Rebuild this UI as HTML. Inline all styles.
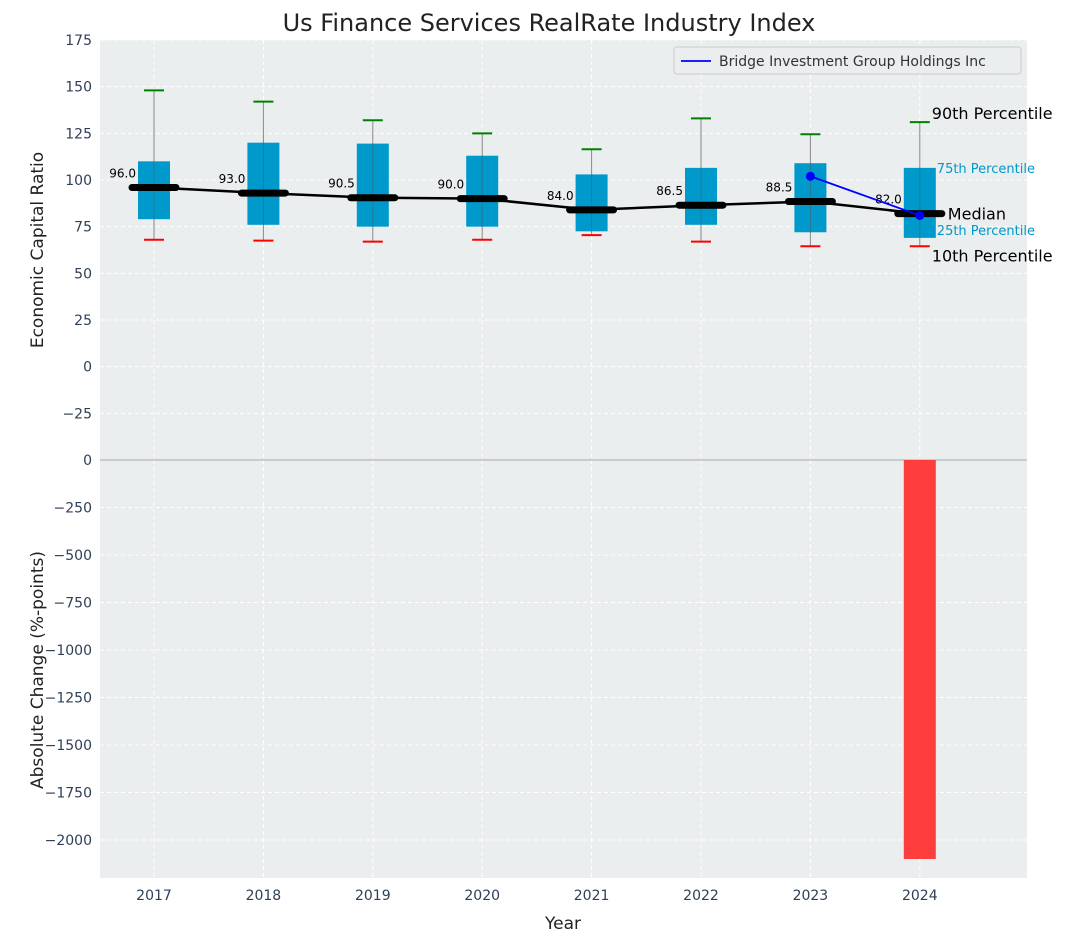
<!DOCTYPE html>
<html><head><meta charset="utf-8"><style>
body{margin:0;background:#fff;font-family:"DejaVu Sans","Liberation Sans",sans-serif;}
svg text{font-family:"DejaVu Sans","Liberation Sans",sans-serif;}
</style></head><body>
<svg id="c" width="1067" height="942" xmlns="http://www.w3.org/2000/svg"></svg>
<script>
const years=[2017,2018,2019,2020,2021,2022,2023,2024];
const p10=[68,67.5,67,68,70.5,67,64.5,64.5];
const q1=[79,76,75,75,72.5,76,72,69];
const med=[96,93,90.5,90,84,86.5,88.5,82];
const q3=[110,120,119.5,113,103,106.5,109,106.5];
const p90=[148,142,132,125,116.5,133,124.5,131];
const compYears=[2023,2024];
const compVals=[102,81];
const changeYears=[2024];
const changeVals=[-2100];
const topTicks=[-25,0,25,50,75,100,125,150,175];
const botTicks=[-2000,-1750,-1500,-1250,-1000,-750,-500,-250,0];

const NS="http://www.w3.org/2000/svg";
const svg=document.getElementById('c');
function mk(t,a,p){const e=document.createElementNS(NS,t);for(const k in a)e.setAttribute(k,a[k]);(p||svg).appendChild(e);return e;}
const L=100,R=1027,T=40,M=460,B=878;
const x=v=>154+(v-2017)*109.4;
const yT=v=>M-(v+50)/225*(M-T);
const yB=v=>M+(v/-2200)*(B-M);

let bg=mk('rect',{x:L,y:T,width:R-L,height:B-T,fill:'#eaeeee'});

years.forEach(yr=>{let g=mk('line',{x1:x(yr),x2:x(yr),y1:T,y2:B,stroke:'#fff','stroke-dasharray':'4,3','stroke-width':1});
});
topTicks.forEach(t=>{const yy=yT(t);let g=mk('line',{x1:L,x2:R,y1:yy,y2:yy,stroke:'#fff','stroke-dasharray':'4,3'});

let tx=mk('text',{x:L-8,y:yy+5,'text-anchor':'end','font-size':14,fill:'#2e4057'});tx.textContent=t<0?'−'+(-t):t;
});
botTicks.forEach(t=>{const yy=yB(t);let g=mk('line',{x1:L,x2:R,y1:yy,y2:yy,stroke:'#fff','stroke-dasharray':'4,3'});

let tx=mk('text',{x:L-8,y:yy+5,'text-anchor':'end','font-size':14,fill:'#2e4057'});tx.textContent=t<0?'−'+(-t):t;
});
let sep=mk('line',{x1:L,x2:R,y1:M,y2:M,stroke:'#aaa','stroke-width':1});


years.forEach((yr,i)=>{const cx=x(yr);
let w=mk('line',{x1:cx,x2:cx,y1:yT(p90[i]),y2:yT(p10[i]),stroke:'#888','stroke-width':1});

let b=mk('rect',{x:cx-16,y:yT(q3[i]),width:32,height:yT(q1[i])-yT(q3[i]),fill:'#0099cc'});

let w2=mk('line',{x1:cx,x2:cx,y1:yT(q3[i]),y2:yT(q1[i]),stroke:'#555','stroke-width':1,opacity:0.5});

let c1=mk('line',{x1:cx-10,x2:cx+10,y1:yT(p90[i]),y2:yT(p90[i]),stroke:'green','stroke-width':2});

let c2=mk('line',{x1:cx-10,x2:cx+10,y1:yT(p10[i]),y2:yT(p10[i]),stroke:'red','stroke-width':2});

});
let mp=mk('polyline',{points:years.map((yr,i)=>x(yr)+','+yT(med[i])).join(' '),fill:'none',stroke:'#000','stroke-width':2.5});

years.forEach((yr,i)=>{const cx=x(yr),yy=yT(med[i]);
let m=mk('line',{x1:cx-22,x2:cx+22,y1:yy,y2:yy,stroke:'#000','stroke-width':7,'stroke-linecap':'round'});

let t=mk('text',{x:cx-18,y:yy-10,'text-anchor':'end','font-size':12,fill:'#000'});t.textContent=med[i].toFixed(1);
});
let cp=mk('polyline',{points:compYears.map((yr,i)=>x(yr)+','+yT(compVals[i])).join(' '),fill:'none',stroke:'blue','stroke-width':1.8});

compYears.forEach((yr,i)=>{let d=mk('circle',{cx:x(yr),cy:yT(compVals[i]),r:4.5,fill:'blue'});
});
changeYears.forEach((yr,i)=>{const cx=x(yr);
let b=mk('rect',{x:cx-16,y:yB(0),width:32,height:yB(changeVals[i])-yB(0),fill:'#ff3333',opacity:0.95});
});
years.forEach(yr=>{let t=mk('text',{x:x(yr),y:B+22,'text-anchor':'middle','font-size':14,fill:'#2e4057'});t.textContent=yr;
});
const ax=x(2024);
[[ '90th Percentile',ax+12,yT(p90[7])-3,16,'#000'],['75th Percentile',ax+17,yT(q3[7])+5,13,'#0099cc'],['Median',ax+28,yT(med[7])+6,16,'#000'],['25th Percentile',ax+17,yT(q1[7])-3,13,'#0099cc'],['10th Percentile',ax+12,yT(p10[7])+15,16,'#000']].forEach(a=>{
let t=mk('text',{x:a[1],y:a[2],'font-size':a[3],fill:a[4]});t.textContent=a[0];
});
let lg=mk('g',{});
mk('rect',{x:674,y:47,width:347,height:27,rx:3,fill:'#eaeeee',stroke:'#ccc'},lg);
mk('line',{x1:681,x2:711,y1:61,y2:61,stroke:'blue','stroke-width':1.8},lg);
let lt=mk('text',{x:719,y:66,'font-size':14,fill:'#333'},lg);lt.textContent='Bridge Investment Group Holdings Inc';
let ti=mk('text',{x:549,y:31,'text-anchor':'middle','font-size':24,fill:'#222'});ti.textContent='Us Finance Services RealRate Industry Index';

let xl=mk('text',{x:563,y:929,'text-anchor':'middle','font-size':17,fill:'#222'});xl.textContent='Year';

let y1=mk('text',{x:43,y:250,'text-anchor':'middle','font-size':17,fill:'#222',transform:'rotate(-90 43 250)'});y1.textContent='Economic Capital Ratio';

let y2=mk('text',{x:43,y:670,'text-anchor':'middle','font-size':17,fill:'#222',transform:'rotate(-90 43 670)'});y2.textContent='Absolute Change (%-points)';

</script>
</body></html>
